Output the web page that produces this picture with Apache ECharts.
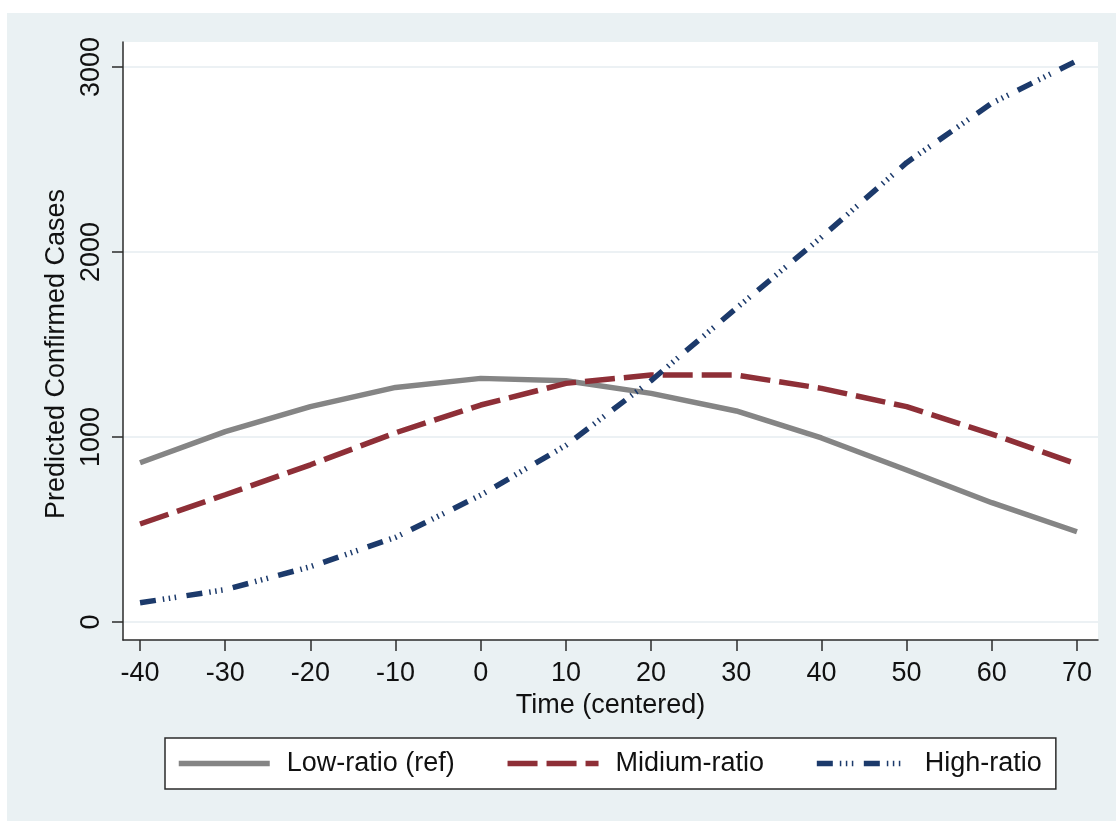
<!DOCTYPE html>
<html>
<head>
<meta charset="utf-8">
<script src="https://cdn.jsdelivr.net/npm/echarts@6/dist/echarts.min.js"></script>
<style>
html,body{margin:0;padding:0;background:#ffffff;overflow:hidden;}
#chart{position:absolute;left:7px;top:13px;width:1109px;height:808px;}
</style>
</head>
<body>
<div id="chart"></div>
<script>
// ---- data ----
const timePoints = [-40, -30, -20, -10, 0, 10, 20, 30, 40, 50, 60, 70];
const lowRatio   = [861, 1029, 1164, 1268, 1317, 1304, 1236, 1141, 995, 822, 645, 488];
const midRatio   = [530, 688, 850, 1023, 1173, 1290, 1335, 1335, 1263, 1164, 1016, 854];
const highRatio  = [104, 175, 299, 458, 686, 955, 1305, 1696, 2080, 2483, 2804, 3034];
const xTickValues = [-40, -30, -20, -10, 0, 10, 20, 30, 40, 50, 60, 70];
const yTickValues = [0, 1000, 2000, 3000];
const seriesNames = ['Low-ratio (ref)', 'Midium-ratio', 'High-ratio'];
const xTitle = 'Time (centered)';
const yTitle = 'Predicted Confirmed Cases';

// ---- styles ----
const FONT = "'Liberation Sans', Arial, sans-serif";
const colors = ['#858585', '#8E2F37', '#1C3A6B'];
const dashes = ['solid', [30, 9], [16, 7, 1.5, 4.5, 1.5, 4.5, 1.5, 10.5]];
const widths = [5.5, 5.5, 5.5];

function pair(vals) { return timePoints.map((t, i) => [t, vals[i]]); }
const allValues = [lowRatio, midRatio, highRatio];

const chart = echarts.init(document.getElementById('chart'), null, {renderer: 'canvas'});
chart.setOption({
  backgroundColor: '#EAF1F3',
  animation: false,
  textStyle: {fontFamily: FONT},
  grid: {
    left: 116, top: 29, width: 975, height: 598,
    show: true, backgroundColor: '#ffffff', borderWidth: 0
  },
  xAxis: {
    type: 'value', min: -42, max: 72.47,
    name: xTitle, nameLocation: 'middle', nameGap: 50,
    nameTextStyle: {fontSize: 27, color: '#111', fontFamily: FONT},
    axisLine: {show: true, onZero: false, lineStyle: {color: '#2b2b2b', width: 1.5}},
    axisTick: {show: true, length: 11, customValues: xTickValues, lineStyle: {color: '#2b2b2b', width: 1.5}},
    axisLabel: {customValues: xTickValues, fontSize: 27, color: '#111', margin: 20, fontFamily: FONT,
      formatter: v => String(v)},
    splitLine: {show: false}
  },
  yAxis: {
    type: 'value', min: -97, max: 3135,
    name: yTitle, nameLocation: 'middle', nameGap: 50, nameRotate: 90,
    nameTextStyle: {fontSize: 27, color: '#111', fontFamily: FONT, padding: [0, 26, 0, 0]},
    axisLine: {show: true, onZero: false, lineStyle: {color: '#2b2b2b', width: 1.5}},
    axisTick: {show: true, length: 11, customValues: yTickValues, lineStyle: {color: '#2b2b2b', width: 1.5}},
    axisLabel: {customValues: yTickValues, fontSize: 27, color: '#111', margin: 18, rotate: 90, fontFamily: FONT,
      formatter: v => String(v)},
    splitLine: {show: true, lineStyle: {color: '#E6EDF0', width: 1.5}}
  },
  legend: {
    left: 158, top: 725,
    orient: 'horizontal',
    backgroundColor: '#ffffff',
    borderColor: '#2b2b2b', borderWidth: 1.5, borderRadius: 0,
    padding: [12, 14, 12, 11],
    itemWidth: 91, itemHeight: 27, itemGap: 50,
    textStyle: {fontSize: 27, color: '#111', fontFamily: FONT, padding: [0, 0, 0, 12]},
    data: seriesNames.map((n, i) => ({
      name: n,
      itemStyle: {opacity: 0},
      lineStyle: {color: colors[i], width: widths[i], type: dashes[i], opacity: 1}
    }))
  },
  series: seriesNames.map((n, i) => ({
    name: n,
    type: 'line',
    data: pair(allValues[i]),
    symbol: 'none',
    showSymbol: false,
    smooth: false,
    color: colors[i],
    lineStyle: {color: colors[i], width: widths[i], type: dashes[i], cap: 'butt'},
    z: 2 + i
  }))
});
</script>
</body>
</html>
